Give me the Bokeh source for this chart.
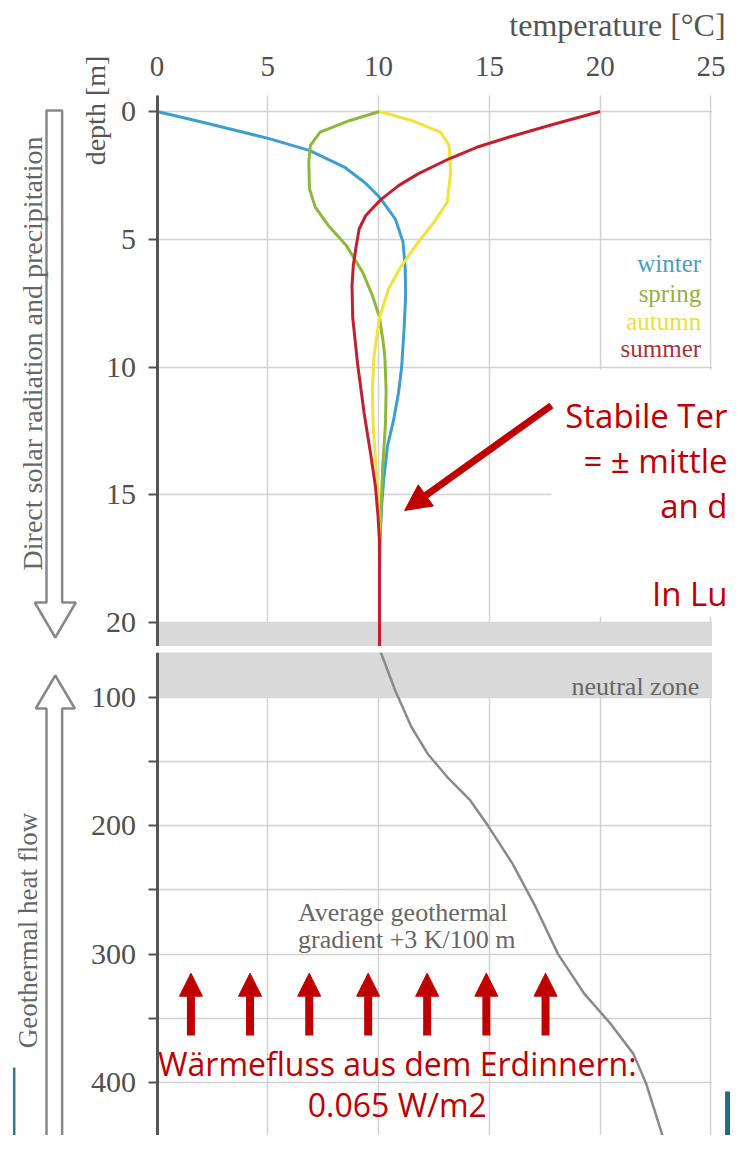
import numpy as np
from bokeh.plotting import figure
from bokeh.layouts import column
from bokeh.models import FixedTicker, Range1d, Grid, Arrow, NormalHead
from bokeh.core.properties import value
from bokeh.embed import file_html
from bokeh.resources import INLINE

# ---------------- data ----------------
temp_ticks = [0, 5, 10, 15, 20, 25]
depth_ticks_top = [0, 5, 10, 15, 20]
depth_ticks_bottom = [100, 200, 300, 400]
depth_minor_bottom = [50, 150, 250, 350, 450]

winter_depth = [0, 0.45, 1.07, 1.53, 2.2, 2.8, 3.35, 4.2, 5.1, 6.1, 7.2, 8.5, 10.0, 11.0, 12.1, 13.1, 14.4, 15.5, 16.5, 17.1, 18.5, 21.0]
winter_temp = [0, 2.2, 5.1, 6.9, 8.5, 9.4, 10.04, 10.75, 11.1, 11.2, 11.22, 11.15, 11.04, 10.9, 10.67, 10.4, 10.23, 10.13, 10.08, 10.05, 10.04, 10.04]

spring_depth = [0, 0.35, 0.81, 1.33, 1.98, 3.03, 3.74, 4.46, 5.24, 6.29, 7.2, 8.05, 9.0, 9.6, 10.9, 12.2, 13.8, 15.1, 16.5, 17.5, 21.0]
spring_temp = [10.04, 8.7, 7.36, 6.92, 6.85, 6.88, 7.14, 7.73, 8.54, 9.28, 9.72, 10.04, 10.2, 10.28, 10.34, 10.31, 10.19, 10.13, 10.06, 10.04, 10.04]

autumn_depth = [0, 0.35, 0.81, 1.33, 2.37, 3.55, 4.33, 5.12, 6.03, 6.94, 8.05, 9.6, 10.9, 12.2, 13.8, 15.1, 16.2, 17.5, 21.0]
autumn_temp = [10.04, 11.48, 12.8, 13.18, 13.25, 13.1, 12.5, 11.78, 11.04, 10.45, 10.04, 9.79, 9.72, 9.75, 9.87, 9.98, 10.03, 10.04, 10.04]

summer_depth = [0, 0.5, 1.0, 1.4, 1.85, 2.44, 2.9, 3.45, 4.07, 4.6, 5.31, 6.0, 6.8, 8.05, 9.87, 11.83, 13.4, 14.7, 15.8, 16.8, 21.0]
summer_temp = [20.0, 17.9, 15.9, 14.43, 13.18, 11.78, 10.9, 10.1, 9.42, 9.12, 8.98, 8.86, 8.8, 8.83, 9.05, 9.35, 9.64, 9.86, 9.97, 10.04, 10.04]

geo_depth = [64.9, 94.5, 123, 144, 162, 180, 200, 229.6, 263, 300, 331, 354, 377.7, 401, 450]
geo_temp = [10.1, 10.75, 11.48, 12.22, 13.1, 14.13, 14.94, 16.05, 17.08, 18.1, 19.29, 20.46, 21.5, 22.08, 22.97]

season_labels = ["winter", "spring", "autumn", "summer"]
season_line_colors = ["#3c9fd0", "#8db83c", "#efe33c", "#c3202f"]
season_text_colors = ["#4a9cc8", "#98b03c", "#e9df3c", "#a8323c"]

neutral_zone_top_panel = [20, 25]      # depth from 20 m down (top panel)
neutral_zone_bottom_panel = 100         # down to 100 m (bottom panel)

# ---------------- layout helpers (reference pixel -> data) ----------------
def tx(px):
    return (px - 160) / 22.64

def ty(py):
    return (py - 111) / 25.55

def by(py):
    return 100 + (py - 697) / 1.2833

SERIF = value("Liberation Serif")
SANS = value("Open Sans")
RED = "#c00000"
AXIS = "#555555"
GRID = "#d2d2d2"
W = 730

def style_common(p):
    p.outline_line_color = None
    p.background_fill_color = "white"
    p.border_fill_color = "white"

def style_yaxis(ax):
    ax.fixed_location = 0
    ax.axis_line_color = AXIS
    ax.axis_line_width = 3
    ax.major_tick_line_color = AXIS
    ax.major_tick_line_width = 2
    ax.major_tick_out = 9
    ax.major_tick_in = 0
    ax.minor_tick_line_color = AXIS
    ax.minor_tick_line_width = 2
    ax.minor_tick_out = 9
    ax.minor_tick_in = 0
    ax.major_label_standoff = 12
    ax.major_label_text_font = "Liberation Serif"
    ax.major_label_text_font_size = "30px"
    ax.major_label_text_color = "#505050"

# ================= TOP PANEL =================
top = figure(width=W, height=646, title=None,
             x_range=Range1d(tx(0), tx(746)), y_range=Range1d(ty(646), ty(0)),
             x_axis_location="above", y_axis_location="left",
             toolbar_location=None, output_backend="svg",
             min_border=0, min_border_left=0, min_border_right=0,
             min_border_top=0, min_border_bottom=0)
style_common(top)

xa = top.xaxis[0]
xa.ticker = FixedTicker(ticks=temp_ticks)
xa.fixed_location = ty(95)
xa.axis_line_color = None
xa.major_tick_line_color = None
xa.minor_tick_line_color = None
xa.major_label_standoff = 14
xa.major_label_text_font = "Liberation Serif"
xa.major_label_text_font_size = "29px"
xa.major_label_text_color = "#505050"

ya = top.yaxis[0]
ya.ticker = FixedTicker(ticks=depth_ticks_top)
style_yaxis(ya)
ya.bounds = (ty(95), ty(646))

top.xgrid.ticker = FixedTicker(ticks=temp_ticks)
top.ygrid.ticker = FixedTicker(ticks=depth_ticks_top)
for g in top.grid:
    g.grid_line_color = GRID
    g.grid_line_width = 1.5

# white masks (hide grid outside the chart box)
top.quad(left=tx(-10), right=0, top=ty(-10), bottom=ty(660), fill_color="white", line_color=None)
top.quad(left=25.05, right=tx(800), top=ty(-10), bottom=ty(660), fill_color="white", line_color=None)
top.quad(left=tx(-10), right=tx(800), top=ty(-10), bottom=ty(95), fill_color="white", line_color=None)
# neutral zone band
top.quad(left=0, right=25.05, top=neutral_zone_top_panel[0], bottom=neutral_zone_top_panel[1],
         fill_color="#d9d9d9", line_color=None)
# white box behind annotation text
top.quad(left=tx(563), right=tx(800), top=ty(369), bottom=ty(616), fill_color="white", line_color=None)

for d, t, c in [(winter_depth, winter_temp, season_line_colors[0]),
                (spring_depth, spring_temp, season_line_colors[1]),
                (autumn_depth, autumn_temp, season_line_colors[2]),
                (summer_depth, summer_temp, season_line_colors[3])]:
    top.line(t, d, line_color=c, line_width=3)

# legend texts
top.text(x=[tx(716)] * 4, y=[ty(263), ty(293), ty(321), ty(348)], text=season_labels,
         text_color=season_text_colors, text_align="right", text_baseline="middle",
         text_font=SERIF, text_font_size="25px")

# title and depth label
top.text(x=[tx(741)], y=[ty(24)], text=["temperature [°C]"], text_align="right",
         text_baseline="middle", text_font=SERIF, text_font_size="32px", text_color="#555555")
top.text(x=[tx(97)], y=[ty(110)], text=["depth [m]"], angle=np.pi / 2, text_align="center",
         text_baseline="middle", text_font=SERIF, text_font_size="28px", text_color="#555555")

# left hollow arrow (down) and its text
top.patch(x=[tx(47), tx(63), tx(63), tx(77), tx(56), tx(35), tx(47), tx(47)],
          y=[ty(110), ty(110), ty(602), ty(602), ty(637), ty(602), ty(602), ty(110)],
          fill_color=None, line_color="#888888", line_width=2.5)
top.text(x=[tx(33)], y=[ty(353)], text=["Direct solar radiation and precipitation"],
         angle=np.pi / 2, text_align="center", text_baseline="middle",
         text_font=SERIF, text_font_size="28px", text_color="#666666")

# red annotation (right-aligned so nothing is cut at the edge)
top.text(x=[tx(743)] * 4, y=[ty(415), ty(460), ty(505), ty(593)],
         text=["Stabile Ter", "= ± mittle", "an d", "In Lu"], text_align="right",
         text_baseline="alphabetic", text_font=SANS, text_font_size="33px", text_color=RED)
top.add_layout(Arrow(x_start=tx(563), y_start=ty(405), x_end=tx(413), y_end=ty(510),
                     line_color=RED, line_width=7,
                     end=NormalHead(size=26, fill_color=RED, line_color=RED, line_width=1)))

# ================= BOTTOM PANEL =================
bot = figure(width=W, height=489, title=None,
             x_range=Range1d(tx(0), tx(746)), y_range=Range1d(by(1135), by(652)),
             x_axis_location=None, y_axis_location="left",
             toolbar_location=None, output_backend="svg",
             min_border=0, min_border_left=0, min_border_right=0,
             min_border_top=6, min_border_bottom=0)
style_common(bot)

yb = bot.yaxis[0]
yb.ticker = FixedTicker(ticks=depth_ticks_bottom, minor_ticks=depth_minor_bottom)
style_yaxis(yb)

for g in bot.grid:
    g.ticker = FixedTicker(ticks=depth_ticks_bottom, minor_ticks=depth_minor_bottom)
    g.grid_line_color = GRID
    g.grid_line_width = 1.5
    g.minor_grid_line_color = GRID
    g.minor_grid_line_width = 1.5
bot.add_layout(Grid(dimension=0, ticker=FixedTicker(ticks=temp_ticks),
                    grid_line_color=GRID, grid_line_width=1.5))

bot.quad(left=tx(-10), right=0, top=by(640), bottom=by(1160), fill_color="white", line_color=None)
bot.quad(left=25.05, right=tx(800), top=by(640), bottom=by(1160), fill_color="white", line_color=None)
bot.quad(left=0, right=25.05, top=by(640), bottom=neutral_zone_bottom_panel,
         fill_color="#d9d9d9", line_color=None)

bot.line(geo_temp, geo_depth, line_color="#8a8a8a", line_width=2.5)

bot.text(x=[tx(714)], y=[by(686)], text=["neutral zone"], text_align="right", text_baseline="middle",
         text_font=SERIF, text_font_size="26px", text_color="#666666")
bot.text(x=[tx(304), tx(304)], y=[by(912), by(939)], text=["Average geothermal", "gradient +3 K/100 m"],
         text_align="left", text_baseline="middle", text_font=SERIF, text_font_size="26px",
         text_color="#666666")

# heat-flow arrows
for px in [194.6, 255, 315.5, 375.7, 436, 496.5, 557]:
    bot.add_layout(Arrow(x_start=tx(px), y_start=by(1035), x_end=tx(px), y_end=by(972.7),
                         line_color=RED, line_width=8,
                         end=NormalHead(size=23, fill_color=RED, line_color=RED, line_width=1)))

bot.text(x=[tx(405.5), tx(405.5)], y=[by(1063), by(1104)],
         text=["Wärmefluss aus dem Erdinnern:", "0.065 W/m2"], text_align="center",
         text_baseline="middle", text_font=SANS, text_font_size="32px", text_color=RED)

# left hollow arrow (up) and text
bot.patch(x=[tx(47), tx(47), tx(36), tx(56), tx(76), tx(63), tx(63)],
          y=[by(1160), by(708), by(708), by(675), by(708), by(708), by(1160)],
          fill_color=None, line_color="#888888", line_width=2.5)
bot.text(x=[tx(28)], y=[by(930)], text=["Geothermal heat flow"], angle=np.pi / 2,
         text_align="center", text_baseline="middle", text_font=SERIF, text_font_size="27px",
         text_color="#666666")
# slide frame remnants
bot.segment(x0=[tx(14)], y0=[by(1067)], x1=[tx(14)], y1=[by(1160)], line_color="#2a7d8c", line_width=2.5)
bot.segment(x0=[tx(743)], y0=[by(1091)], x1=[tx(743)], y1=[by(1160)], line_color="#1f6f7f", line_width=5)

layout = column(top, bot)
open("out.html", "w").write(file_html(layout, INLINE))
